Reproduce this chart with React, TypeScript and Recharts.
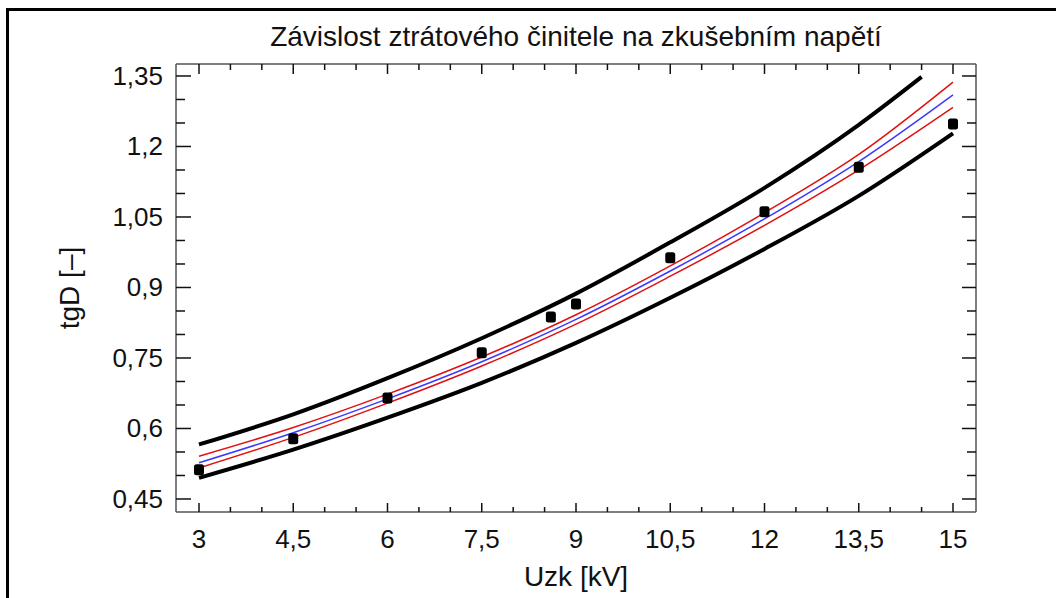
import React from "react";
import {
  ComposedChart,
  Line,
  Scatter,
  XAxis,
  YAxis,
} from "recharts";

// measured points
const measuredU = [3, 4.5, 6, 7.5, 8.6, 9, 10.5, 12, 13.5, 15];
const measuredTg = [0.512, 0.578, 0.665, 0.761, 0.837, 0.865, 0.963, 1.061, 1.156, 1.248];

const fitU = [3, 4.5, 6, 7.5, 9, 10.5, 12, 13.5, 15];
const fitTg = [0.527, 0.591, 0.663, 0.742, 0.832, 0.935, 1.046, 1.168, 1.31];
const confUpper = [0.541, 0.602, 0.673, 0.752, 0.842, 0.946, 1.059, 1.183, 1.337];
const confLower = [0.516, 0.581, 0.654, 0.733, 0.822, 0.924, 1.032, 1.15, 1.283];
const predUpperU = [3, 4.5, 6, 7.5, 9, 10.5, 12, 13.5, 14.5];
const predUpper = [0.566, 0.63, 0.707, 0.792, 0.887, 0.996, 1.112, 1.246, 1.348];
const predLower = [0.495, 0.555, 0.623, 0.697, 0.782, 0.878, 0.982, 1.095, 1.228];

const xTicks = [3, 3.5, 4, 4.5, 5, 5.5, 6, 6.5, 7, 7.5, 8, 8.5, 9, 9.5, 10, 10.5, 11, 11.5, 12, 12.5, 13, 13.5, 14, 14.5, 15];
const yTicks = [0.45, 0.5, 0.55, 0.6, 0.65, 0.7, 0.75, 0.8, 0.85, 0.9, 0.95, 1, 1.05, 1.1, 1.15, 1.2, 1.25, 1.3, 1.35];

const zip = (xs: number[], ys: number[]) => xs.map((x, i) => ({ x, y: ys[i] }));

const points = zip(measuredU, measuredTg);
const fit = zip(fitU, fitTg);
const cUp = zip(fitU, confUpper);
const cLo = zip(fitU, confLower);
const pUp = zip(predUpperU, predUpper);
const pLo = zip(fitU, predLower);

const FONT = "'Liberation Sans', Arial, sans-serif";
const fmt = (v: number) => String(v).replace(".", ",");
const isMajorX = (v: number) => Math.round(v * 10) % 15 === 0;
const isMajorY = (v: number) => Math.round(v * 100) % 15 === 0;

const BottomTick = ({ x, y, payload }: any) => {
  const major = isMajorX(payload.value);
  return (
    <g>
      <line x1={x} x2={x} y1={y} y2={y - (major ? 9 : 5)} stroke="#111" strokeWidth={1.5} />
      {major && (
        <text x={x} y={y + 36} textAnchor="middle" fontSize={26} fontFamily={FONT} fill="#111">
          {fmt(payload.value)}
        </text>
      )}
    </g>
  );
};

const TopTick = ({ x, y, payload }: any) => {
  const major = isMajorX(payload.value);
  return <line x1={x} x2={x} y1={y} y2={y + (major ? 10 : 6)} stroke="#111" strokeWidth={1.5} />;
};

const LeftTick = ({ x, y, payload }: any) => {
  const major = isMajorY(payload.value);
  return (
    <g>
      <line x1={x} x2={x + (major ? 15 : 9)} y1={y} y2={y} stroke="#111" strokeWidth={1.5} />
      {major && (
        <text x={x - 13} y={y + 9} textAnchor="end" fontSize={26} fontFamily={FONT} fill="#111">
          {fmt(payload.value)}
        </text>
      )}
    </g>
  );
};

const RightTick = ({ x, y, payload }: any) => {
  const major = isMajorY(payload.value);
  return <line x1={x} x2={x - (major ? 14 : 9)} y1={y} y2={y} stroke="#111" strokeWidth={1.5} />;
};

const PointShape = ({ cx, cy }: any) => (
  <rect x={cx - 5} y={cy - 5.5} width={10} height={11} rx={2.5} fill="#000" />
);

const axisLine = { stroke: "#555", strokeWidth: 1.5 };
const xDomain = [2.634, 15.366];
const yDomain = [0.4223, 1.3755];

export default function App() {
  return (
    <div style={{ position: "absolute", left: 0, top: 0, width: 1056, height: 598, background: "#fff", overflow: "hidden" }}>
      <div
        style={{
          position: "absolute",
          left: 6,
          top: 8,
          width: 1100,
          height: 700,
          borderTop: "3px solid #000",
          borderLeft: "3px solid #000",
        }}
      />
      <div
        style={{
          position: "absolute",
          left: 176,
          width: 800,
          top: 21,
          textAlign: "center",
          fontFamily: FONT,
          fontSize: 28,
          color: "#111",
        }}
      >
        Závislost ztrátového činitele na zkušebním napětí
      </div>
      <div
        style={{
          position: "absolute",
          left: 176,
          width: 800,
          top: 561,
          textAlign: "center",
          fontFamily: FONT,
          fontSize: 28,
          color: "#111",
        }}
      >
        Uzk [kV]
      </div>
      <div
        style={{
          position: "absolute",
          left: 70,
          top: 288,
          transform: "translate(-50%, -50%) rotate(-90deg)",
          fontFamily: FONT,
          fontSize: 28,
          color: "#111",
          whiteSpace: "nowrap",
        }}
      >
        tgD [–]
      </div>
      <div style={{ position: "absolute", left: 0, top: 0 }}>
        <ComposedChart width={1056} height={598} margin={{ top: 63, right: 79, bottom: 85, left: 175 }}>
          <XAxis
            type="number"
            dataKey="x"
            domain={xDomain}
            allowDataOverflow
            ticks={xTicks}
            interval={0}
            height={1}
            tickSize={0}
            tickMargin={0}
            tickLine={false}
            axisLine={axisLine}
            tick={<BottomTick />}
          />
          <XAxis
            xAxisId="top"
            orientation="top"
            type="number"
            dataKey="x"
            domain={xDomain}
            allowDataOverflow
            ticks={xTicks}
            interval={0}
            height={1}
            tickSize={0}
            tickMargin={0}
            tickLine={false}
            axisLine={axisLine}
            tick={<TopTick />}
          />
          <YAxis
            type="number"
            dataKey="y"
            domain={yDomain}
            allowDataOverflow
            ticks={yTicks}
            interval={0}
            width={1}
            tickSize={0}
            tickMargin={0}
            tickLine={false}
            axisLine={axisLine}
            tick={<LeftTick />}
          />
          <YAxis
            yAxisId="right"
            orientation="right"
            type="number"
            dataKey="y"
            domain={yDomain}
            allowDataOverflow
            ticks={yTicks}
            interval={0}
            width={1}
            tickSize={0}
            tickMargin={0}
            tickLine={false}
            axisLine={axisLine}
            tick={<RightTick />}
          />
          <Line data={pUp} dataKey="y" type="monotone" stroke="#000" strokeWidth={4} dot={false} isAnimationActive={false} />
          <Line data={pLo} dataKey="y" type="monotone" stroke="#000" strokeWidth={4} dot={false} isAnimationActive={false} />
          <Line data={cUp} dataKey="y" type="monotone" stroke="#e01010" strokeWidth={1.5} dot={false} isAnimationActive={false} />
          <Line data={cLo} dataKey="y" type="monotone" stroke="#e01010" strokeWidth={1.5} dot={false} isAnimationActive={false} />
          <Line data={fit} dataKey="y" type="monotone" stroke="#3a3aff" strokeWidth={1.5} dot={false} isAnimationActive={false} />
          <Scatter data={points} dataKey="y" fill="#000" shape={<PointShape />} isAnimationActive={false} />
        </ComposedChart>
      </div>
    </div>
  );
}
